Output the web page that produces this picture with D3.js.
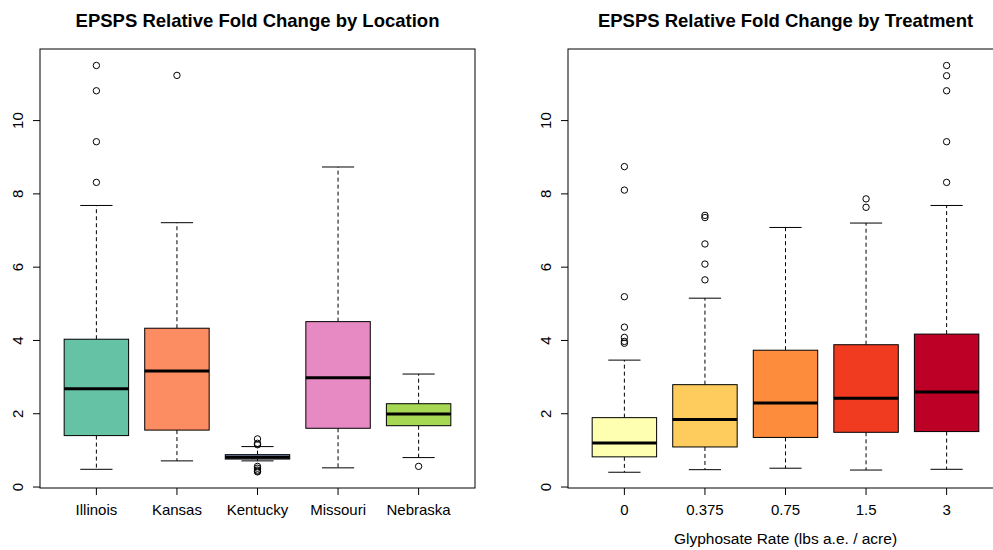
<!DOCTYPE html>
<html>
<head>
<meta charset="utf-8">
<script src="https://cdn.jsdelivr.net/npm/d3@7"></script>
<style>
  body { margin: 0; background: #fff; }
  text { font-family: "Liberation Sans", Arial, sans-serif; }
</style>
</head>
<body>
<script>
// Box stats (lower whisker, Q1, median, Q3, upper whisker, outliers)
const locations = ["Illinois", "Kansas", "Kentucky", "Missouri", "Nebraska"];
const locColors = ["#66C2A5", "#FC8D62", "#8DA0CB", "#E78AC3", "#A6D854"];
const locLow = [0.47, 0.70, 0.70, 0.51, 0.79];
const locQ1 = [1.39, 1.54, 0.75, 1.59, 1.66];
const locMed = [2.67, 3.15, 0.80, 2.97, 1.98];
const locQ3 = [4.02, 4.32, 0.87, 4.50, 2.26];
const locHigh = [7.67, 7.20, 1.09, 8.72, 3.07];
const locOut = [
  [8.30, 9.41, 10.80, 11.49],
  [11.22],
  [1.14, 1.18, 1.30, 0.55, 0.50, 0.45, 0.42, 0.40],
  [],
  [0.55]
];

const rates = ["0", "0.375", "0.75", "1.5", "3"];
const rateColors = ["#FFFFB2", "#FECC5C", "#FD8D3C", "#F03B20", "#BD0026"];
const rateLow = [0.39, 0.46, 0.50, 0.45, 0.47];
const rateQ1 = [0.81, 1.08, 1.34, 1.48, 1.50];
const rateMed = [1.19, 1.83, 2.28, 2.41, 2.58];
const rateQ3 = [1.88, 2.78, 3.72, 3.87, 4.16];
const rateHigh = [3.45, 5.14, 7.07, 7.19, 7.67];
const rateOut = [
  [3.91, 3.96, 4.07, 4.35, 5.18, 8.09, 8.73],
  [5.64, 6.07, 6.62, 7.34, 7.40],
  [],
  [7.62, 7.85],
  [8.30, 9.41, 10.80, 11.21, 11.49]
];

const yTicks = [0, 2, 4, 6, 8, 10];

const svg = d3.select("body")
  .append("svg")
  .attr("width", 993)
  .attr("height", 550);

function drawPanel(p) {
  const top = 49, bottom = 488;

  const x = d3.scaleBand()
    .domain(p.cats)
    .range([p.left, p.right])
    .paddingInner(0.2)
    .paddingOuter(0.3);

  const y = d3.scaleLinear()
    .domain([-0.04, 11.94])
    .range([bottom, top]);

  const g = svg.append("g");

  const boxes = p.cats.map((c, i) => ({
    cat: c, color: p.colors[i],
    low: p.low[i], q1: p.q1[i], med: p.med[i], q3: p.q3[i], high: p.high[i],
    out: p.out[i]
  }));

  const bw = x.bandwidth();
  const cx = d => x(d.cat) + bw / 2;

  const box = g.selectAll(".box")
    .data(boxes)
    .enter()
    .append("g");

  // whiskers (dashed)
  box.append("line")
    .attr("x1", cx).attr("x2", cx)
    .attr("y1", d => y(d.q3)).attr("y2", d => y(d.high))
    .attr("stroke", "#000").attr("stroke-dasharray", "4 3");
  box.append("line")
    .attr("x1", cx).attr("x2", cx)
    .attr("y1", d => y(d.q1)).attr("y2", d => y(d.low))
    .attr("stroke", "#000").attr("stroke-dasharray", "4 3");

  // staples
  ["high", "low"].forEach(k => {
    box.append("line")
      .attr("x1", d => cx(d) - bw / 4).attr("x2", d => cx(d) + bw / 4)
      .attr("y1", d => y(d[k])).attr("y2", d => y(d[k]))
      .attr("stroke", "#000");
  });

  // box
  box.append("rect")
    .attr("x", d => x(d.cat))
    .attr("y", d => y(d.q3))
    .attr("width", bw)
    .attr("height", d => y(d.q1) - y(d.q3))
    .attr("fill", d => d.color)
    .attr("stroke", "#000");

  // median
  box.append("line")
    .attr("x1", d => x(d.cat)).attr("x2", d => x(d.cat) + bw)
    .attr("y1", d => y(d.med)).attr("y2", d => y(d.med))
    .attr("stroke", "#000").attr("stroke-width", 3);

  // outliers
  box.selectAll("circle")
    .data(d => d.out.map(v => ({ v: v, cat: d.cat })))
    .enter()
    .append("circle")
    .attr("cx", cx)
    .attr("cy", d => y(d.v))
    .attr("r", 3.2)
    .attr("fill", "none")
    .attr("stroke", "#000");

  // frame
  g.append("rect")
    .attr("x", p.left).attr("y", top)
    .attr("width", p.right - p.left).attr("height", bottom - top)
    .attr("fill", "none").attr("stroke", "#000");

  // y axis, labels rotated like R's default las=0
  const ya = g.append("g")
    .attr("transform", `translate(${p.left},0)`)
    .call(d3.axisLeft(y).tickValues(yTicks).tickSize(7).tickFormat(d3.format("d")));
  ya.select(".domain").remove();
  ya.selectAll("text")
    .attr("transform", "translate(-17.5,0) rotate(-90)")
    .attr("x", 0).attr("y", 0).attr("dy", "0")
    .attr("text-anchor", "middle")
    .style("font-size", "15px")
    .style("font-family", "'Liberation Sans', Arial, sans-serif")
    .attr("fill", "#000");
  ya.selectAll("line").attr("stroke", "#000");

  // x axis
  const xa = g.append("g")
    .attr("transform", `translate(0,${bottom})`)
    .call(d3.axisBottom(x).tickSize(7).tickPadding(0));
  xa.select(".domain").remove();
  xa.selectAll("text")
    .attr("y", 27).attr("dy", "0")
    .style("font-size", "15px")
    .style("font-family", "'Liberation Sans', Arial, sans-serif")
    .attr("fill", "#000");
  xa.selectAll("line").attr("stroke", "#000");

  // title
  g.append("text")
    .attr("x", (p.left + p.right) / 2)
    .attr("y", 27)
    .attr("text-anchor", "middle")
    .style("font-size", "18.5px")
    .style("font-weight", "bold")
    .text(p.title);

  if (p.xlab) {
    g.append("text")
      .attr("x", (p.left + p.right) / 2)
      .attr("y", 544)
      .attr("text-anchor", "middle")
      .style("font-size", "15.5px")
      .text(p.xlab);
  }
}

drawPanel({
  cats: locations, colors: locColors,
  low: locLow, q1: locQ1, med: locMed, q3: locQ3, high: locHigh, out: locOut,
  left: 40, right: 475,
  title: "EPSPS Relative Fold Change by Location"
});

drawPanel({
  cats: rates, colors: rateColors,
  low: rateLow, q1: rateQ1, med: rateMed, q3: rateQ3, high: rateHigh, out: rateOut,
  left: 568, right: 1003,
  title: "EPSPS Relative Fold Change by Treatment",
  xlab: "Glyphosate Rate (lbs a.e. / acre)"
});
</script>
</body>
</html>
